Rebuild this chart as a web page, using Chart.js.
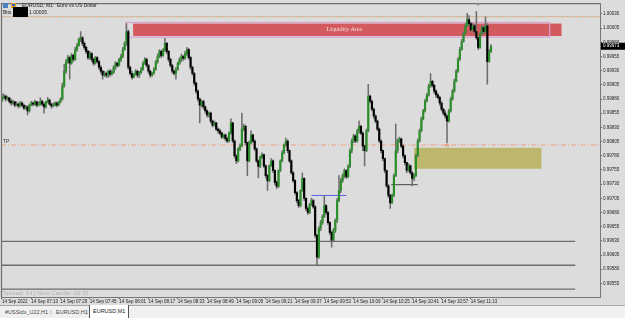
<!DOCTYPE html>
<html><head><meta charset="utf-8">
<script src="https://cdn.jsdelivr.net/npm/chart.js@4.4.1/dist/chart.umd.min.js"></script>
<style>
html,body{margin:0;padding:0;background:#dcdcdc;width:625px;height:318px;overflow:hidden;font-family:'Liberation Sans',Arial,sans-serif}
#wrap{position:absolute;left:0;top:0;width:625px;height:306px}
#tabs{position:absolute;left:0;top:305px;width:625px;height:13px;background:#f0f0f0;border-top:1px solid #a8a8a8;font-size:5.5px;color:#444}
#tabs span{position:absolute;top:3px;white-space:nowrap}
#tabs .act{top:-1px;height:10px;padding:3px 3px 0 3px;background:#fff;border:1px solid #555;border-top:none;color:#222}
</style></head>
<body>
<div id="wrap"><canvas id="c" width="625" height="306"></canvas></div>
<div id="tabs">
 <span style="left:5px">#USSidx_U22,H1</span>
 <span style="left:50px;color:#888">|</span>
 <span style="left:56px">EURUSD,H1</span>
 <span style="left:86px;color:#888">|</span>
 <span class="act" style="left:89px">EURUSD,M1</span>
</div>
<script>
// ---- data (EURUSD M1, 14 Sep 2022, first bar 06:57) ----
const opens = [0.99876,0.99883,0.99885,0.99880,0.99882,0.99876,0.99873,0.99875,0.99869,0.99871,
0.99868,0.99873,0.99869,0.99864,0.99866,0.99859,0.99869,0.99873,0.99871,0.99875,
0.99869,0.99871,0.99876,0.99871,0.99866,0.99875,0.99878,0.99871,0.99868,0.99869,
0.99873,0.99869,0.99875,0.99880,0.99903,0.99929,0.99946,0.99953,0.99943,0.99957,
0.99950,0.99967,0.99974,0.99985,0.99988,0.99978,0.99971,0.99964,0.99953,0.99960,
0.99950,0.99943,0.99953,0.99946,0.99936,0.99929,0.99922,0.99925,0.99922,0.99929,
0.99924,0.99927,0.99936,0.99943,0.99939,0.99950,0.99955,0.99967,0.99978,0.99999,
0.99936,0.99925,0.99918,0.99924,0.99929,0.99922,0.99927,0.99932,0.99943,0.99950,
0.99939,0.99929,0.99922,0.99925,0.99932,0.99946,0.99955,0.99964,0.99957,0.99967,
0.99978,0.99964,0.99950,0.99939,0.99929,0.99925,0.99932,0.99943,0.99950,0.99955,
0.99952,0.99960,0.99967,0.99953,0.99936,0.99925,0.99908,0.99894,0.99880,0.99869,
0.99876,0.99866,0.99859,0.99852,0.99855,0.99841,0.99834,0.99838,0.99827,0.99824,
0.99820,0.99813,0.99817,0.99810,0.99806,0.99820,0.99838,0.99806,0.99780,0.99771,
0.99792,0.99797,0.99827,0.99832,0.99803,0.99771,0.99803,0.99817,0.99806,0.99792,
0.99771,0.99761,0.99778,0.99782,0.99762,0.99745,0.99736,0.99762,0.99771,0.99754,
0.99733,0.99726,0.99754,0.99771,0.99785,0.99799,0.99806,0.99789,0.99771,0.99750,
0.99736,0.99715,0.99701,0.99692,0.99719,0.99740,0.99705,0.99687,0.99680,0.99694,
0.99701,0.99690,0.99640,0.99601,0.99652,0.99662,0.99673,0.99692,0.99680,0.99662,
0.99645,0.99631,0.99648,0.99666,0.99701,0.99719,0.99736,0.99745,0.99754,0.99743,
0.99761,0.99789,0.99806,0.99815,0.99806,0.99824,0.99832,0.99820,0.99797,0.99789,
0.99824,0.99885,0.99876,0.99862,0.99850,0.99841,0.99827,0.99806,0.99789,0.99775,
0.99754,0.99727,0.99710,0.99697,0.99710,0.99745,0.99789,0.99806,0.99810,0.99797,
0.99780,0.99768,0.99754,0.99762,0.99750,0.99740,0.99745,0.99780,0.99806,0.99824,
0.99845,0.99859,0.99876,0.99887,0.99903,0.99911,0.99904,0.99894,0.99887,0.99883,
0.99873,0.99862,0.99855,0.99850,0.99841,0.99859,0.99880,0.99894,0.99911,0.99929,
0.99950,0.99967,0.99981,0.99995,1.00009,1.00020,1.00013,1.00002,1.00009,0.99999,
0.99988,0.99971,0.99995,1.00006,0.99999,1.00009,0.99946,0.99964];
const highs = [0.99889,0.99889,0.99887,0.99885,0.99883,0.99880,0.99878,0.99876,0.99875,0.99873,
0.99876,0.99875,0.99871,0.99869,0.99868,0.99871,0.99876,0.99875,0.99878,0.99876,
0.99875,0.99882,0.99878,0.99873,0.99876,0.99883,0.99880,0.99873,0.99873,0.99875,
0.99875,0.99876,0.99882,0.99908,0.99941,0.99950,0.99957,0.99955,0.99960,0.99959,
0.99971,0.99978,0.99988,0.99999,0.99990,0.99981,0.99973,0.99966,0.99964,0.99962,
0.99952,0.99955,0.99955,0.99948,0.99939,0.99931,0.99929,0.99927,0.99931,0.99932,
0.99931,0.99939,0.99946,0.99945,0.99952,0.99959,0.99971,0.99981,1.00013,1.00002,
0.99938,0.99929,0.99925,0.99932,0.99931,0.99929,0.99936,0.99946,0.99953,0.99952,
0.99941,0.99931,0.99927,0.99936,0.99948,0.99959,0.99967,0.99966,0.99969,0.99987,
0.99980,0.99966,0.99952,0.99941,0.99932,0.99936,0.99945,0.99953,0.99959,0.99957,
0.99964,0.99971,0.99969,0.99955,0.99938,0.99927,0.99910,0.99896,0.99882,0.99878,
0.99878,0.99868,0.99861,0.99857,0.99857,0.99843,0.99841,0.99839,0.99829,0.99827,
0.99822,0.99818,0.99818,0.99813,0.99822,0.99845,0.99839,0.99808,0.99782,0.99794,
0.99801,0.99855,0.99836,0.99834,0.99804,0.99806,0.99824,0.99818,0.99808,0.99794,
0.99773,0.99780,0.99785,0.99783,0.99764,0.99747,0.99764,0.99775,0.99773,0.99755,
0.99736,0.99755,0.99773,0.99789,0.99801,0.99811,0.99808,0.99790,0.99773,0.99752,
0.99738,0.99717,0.99703,0.99720,0.99750,0.99741,0.99706,0.99690,0.99696,0.99705,
0.99703,0.99692,0.99641,0.99655,0.99666,0.99676,0.99710,0.99694,0.99682,0.99664,
0.99647,0.99652,0.99669,0.99705,0.99745,0.99740,0.99748,0.99757,0.99755,0.99764,
0.99792,0.99810,0.99818,0.99817,0.99827,0.99841,0.99834,0.99822,0.99799,0.99827,
0.99906,0.99887,0.99878,0.99864,0.99852,0.99843,0.99829,0.99808,0.99790,0.99776,
0.99755,0.99729,0.99712,0.99713,0.99748,0.99836,0.99810,0.99813,0.99811,0.99799,
0.99782,0.99769,0.99766,0.99764,0.99752,0.99748,0.99783,0.99810,0.99827,0.99848,
0.99862,0.99880,0.99890,0.99906,0.99925,0.99913,0.99906,0.99896,0.99890,0.99885,
0.99875,0.99864,0.99859,0.99852,0.99862,0.99883,0.99897,0.99915,0.99932,0.99953,
0.99971,0.99985,0.99999,1.00013,1.00031,1.00027,1.00015,1.00013,1.00011,1.00034,
0.99990,0.99997,1.00009,1.00008,1.00025,1.00013,0.99967,0.99976];
const lows = [0.99875,0.99880,0.99876,0.99878,0.99873,0.99869,0.99871,0.99866,0.99868,0.99864,
0.99866,0.99866,0.99861,0.99862,0.99852,0.99857,0.99868,0.99868,0.99869,0.99866,
0.99868,0.99869,0.99868,0.99855,0.99864,0.99873,0.99869,0.99864,0.99866,0.99868,
0.99866,0.99868,0.99873,0.99878,0.99901,0.99925,0.99943,0.99915,0.99941,0.99946,
0.99948,0.99964,0.99973,0.99981,0.99974,0.99967,0.99960,0.99950,0.99950,0.99946,
0.99939,0.99941,0.99943,0.99932,0.99925,0.99915,0.99920,0.99918,0.99918,0.99920,
0.99922,0.99925,0.99932,0.99936,0.99938,0.99946,0.99953,0.99966,0.99974,0.99932,
0.99922,0.99915,0.99917,0.99922,0.99918,0.99918,0.99925,0.99931,0.99941,0.99936,
0.99925,0.99918,0.99920,0.99924,0.99931,0.99943,0.99953,0.99953,0.99955,0.99964,
0.99960,0.99946,0.99936,0.99925,0.99922,0.99915,0.99931,0.99941,0.99946,0.99948,
0.99950,0.99957,0.99950,0.99932,0.99922,0.99904,0.99890,0.99876,0.99838,0.99866,
0.99862,0.99855,0.99848,0.99848,0.99838,0.99831,0.99832,0.99824,0.99820,0.99817,
0.99810,0.99811,0.99806,0.99803,0.99804,0.99818,0.99803,0.99776,0.99766,0.99769,
0.99789,0.99796,0.99824,0.99799,0.99745,0.99769,0.99801,0.99803,0.99789,0.99768,
0.99741,0.99759,0.99775,0.99759,0.99741,0.99719,0.99734,0.99761,0.99750,0.99729,
0.99722,0.99724,0.99752,0.99769,0.99783,0.99797,0.99785,0.99768,0.99747,0.99733,
0.99712,0.99697,0.99689,0.99690,0.99717,0.99701,0.99683,0.99676,0.99678,0.99692,
0.99687,0.99636,0.99587,0.99599,0.99648,0.99659,0.99671,0.99676,0.99659,0.99641,
0.99619,0.99629,0.99645,0.99662,0.99699,0.99715,0.99733,0.99741,0.99740,0.99741,
0.99759,0.99785,0.99803,0.99803,0.99804,0.99820,0.99817,0.99789,0.99762,0.99787,
0.99822,0.99873,0.99859,0.99846,0.99838,0.99824,0.99803,0.99785,0.99771,0.99750,
0.99724,0.99706,0.99687,0.99696,0.99708,0.99743,0.99785,0.99803,0.99794,0.99776,
0.99764,0.99750,0.99752,0.99747,0.99727,0.99736,0.99743,0.99778,0.99804,0.99822,
0.99843,0.99857,0.99875,0.99885,0.99901,0.99901,0.99890,0.99883,0.99880,0.99869,
0.99859,0.99852,0.99846,0.99803,0.99839,0.99857,0.99878,0.99892,0.99910,0.99927,
0.99948,0.99966,0.99980,0.99994,1.00008,1.00009,0.99999,1.00001,0.99995,0.99985,
0.99967,0.99969,0.99994,0.99995,0.99997,0.99906,0.99945,0.99962];
const closes = [0.99883,0.99885,0.99880,0.99882,0.99876,0.99873,0.99875,0.99869,0.99871,0.99868,
0.99873,0.99869,0.99864,0.99866,0.99859,0.99869,0.99873,0.99871,0.99875,0.99869,
0.99871,0.99876,0.99871,0.99866,0.99875,0.99878,0.99871,0.99868,0.99869,0.99873,
0.99869,0.99875,0.99880,0.99903,0.99929,0.99946,0.99953,0.99943,0.99957,0.99950,
0.99967,0.99974,0.99985,0.99988,0.99978,0.99971,0.99964,0.99953,0.99960,0.99950,
0.99943,0.99953,0.99946,0.99936,0.99929,0.99922,0.99925,0.99922,0.99929,0.99924,
0.99927,0.99936,0.99943,0.99939,0.99950,0.99955,0.99967,0.99978,0.99999,0.99936,
0.99925,0.99918,0.99924,0.99929,0.99922,0.99927,0.99932,0.99943,0.99950,0.99939,
0.99929,0.99922,0.99925,0.99932,0.99946,0.99955,0.99964,0.99957,0.99967,0.99978,
0.99964,0.99950,0.99939,0.99929,0.99925,0.99932,0.99943,0.99950,0.99955,0.99952,
0.99960,0.99967,0.99953,0.99936,0.99925,0.99908,0.99894,0.99880,0.99869,0.99876,
0.99866,0.99859,0.99852,0.99855,0.99841,0.99834,0.99838,0.99827,0.99824,0.99820,
0.99813,0.99817,0.99810,0.99806,0.99820,0.99838,0.99806,0.99780,0.99771,0.99792,
0.99797,0.99827,0.99832,0.99803,0.99771,0.99803,0.99817,0.99806,0.99792,0.99771,
0.99761,0.99778,0.99782,0.99762,0.99745,0.99736,0.99762,0.99771,0.99754,0.99733,
0.99726,0.99754,0.99771,0.99785,0.99799,0.99806,0.99789,0.99771,0.99750,0.99736,
0.99715,0.99701,0.99692,0.99719,0.99740,0.99705,0.99687,0.99680,0.99694,0.99701,
0.99690,0.99640,0.99601,0.99652,0.99662,0.99673,0.99692,0.99680,0.99662,0.99645,
0.99631,0.99648,0.99666,0.99701,0.99719,0.99736,0.99745,0.99754,0.99743,0.99761,
0.99789,0.99806,0.99815,0.99806,0.99824,0.99832,0.99820,0.99797,0.99789,0.99824,
0.99885,0.99876,0.99862,0.99850,0.99841,0.99827,0.99806,0.99789,0.99775,0.99754,
0.99727,0.99710,0.99697,0.99710,0.99745,0.99789,0.99806,0.99810,0.99797,0.99780,
0.99768,0.99754,0.99762,0.99750,0.99740,0.99745,0.99780,0.99806,0.99824,0.99845,
0.99859,0.99876,0.99887,0.99903,0.99911,0.99904,0.99894,0.99887,0.99883,0.99873,
0.99862,0.99855,0.99850,0.99841,0.99859,0.99880,0.99894,0.99911,0.99929,0.99950,
0.99967,0.99981,0.99995,1.00009,1.00020,1.00013,1.00002,1.00009,0.99999,0.99988,
0.99971,0.99995,1.00006,0.99999,1.00009,0.99946,0.99964,0.99973];

const xTickTimes  = ['06:57','07:13','07:29','07:45','08:01','08:17','08:33','08:49','09:05','09:21','09:37','09:53','10:09','10:25','10:41','10:57','11:13'];
const xTickLabels = ['14 Sep 2022','14 Sep 07:13','14 Sep 07:29','14 Sep 07:45','14 Sep 08:01','14 Sep 08:17','14 Sep 08:33','14 Sep 08:49','14 Sep 09:05','14 Sep 09:21','14 Sep 09:37','14 Sep 09:53','14 Sep 10:09','14 Sep 10:25','14 Sep 10:41','14 Sep 10:57','14 Sep 11:13'];
const yTicks = [1.00030,1.00005,0.99980,0.99955,0.99930,0.99905,0.99880,0.99855,0.99830,0.99805,0.99780,0.99755,0.99730,0.99705,0.99680,0.99655,0.99630,0.99605,0.99580,0.99555];

// chart objects (time as minutes index from 06:57, price)
const liquidityZone = {label:'Liquidity Area', from:71.6, to:305.5, top:1.00013, bottom:0.99991};
const liquidityOutline = {from:67.8, to:299, top:1.00015, bottom:0.99989};
const demandZone = {from:225, to:294.5, top:0.99794, bottom:0.99757};
const hLevels = [0.99629, 0.99587, 0.99545];
const hLevelsEnd = 313;
const topLevel = 1.00025;
const tpLevel = 0.99799;
const blueSeg = {from:169, to:188, price:0.99710};
const blackSeg = {from:212.5, to:227, price:0.99729};
const tpHit = {at:243, price:0.99799};

// category slots: visible bars + empty future space (1-minute steps)
const categories = [];
for (let i = 0; i < 327; i++) {
  const t = 6*60+57+i, h = Math.floor(t/60), m = t%60;
  categories.push(String(h).padStart(2,'0')+':'+String(m).padStart(2,'0'));
}
const tickIdx = xTickTimes.map(t => categories.indexOf(t));

const bodies = opens.map((o,i)=>[o, closes[i]]);
const wicks = lows.map((l,i)=>[l, highs[i]]);
const GREEN = '#2a8f2a';

function box(x, y, r){
  const x0=x.getPixelForValue(r.from), x1=x.getPixelForValue(r.to), y0=y.getPixelForValue(r.top), y1=y.getPixelForValue(r.bottom);
  return [x0,y0,x1-x0,y1-y0];
}

const overlay = {
  id:'overlay',
  beforeDatasetsDraw(chart){
    const {ctx, chartArea:a, scales:{x,y}} = chart;
    ctx.save();
    ctx.beginPath(); ctx.rect(a.left,a.top,a.right-a.left,a.bottom-a.top); ctx.clip();
    // liquidity zone + outline
    ctx.fillStyle = '#d35a5e';
    ctx.fillRect(...box(x,y,liquidityZone));
    ctx.strokeStyle = '#d8a2d2'; ctx.lineWidth = 1.2;
    ctx.strokeRect(...box(x,y,liquidityOutline));
    ctx.fillStyle = '#bdb76e';
    ctx.fillRect(...box(x,y,demandZone));
    // horizontal levels
    ctx.strokeStyle = '#6c6c6c'; ctx.lineWidth = 1.3;
    hLevels.forEach(p=>{ const yy=y.getPixelForValue(p); ctx.beginPath(); ctx.moveTo(a.left,yy); ctx.lineTo(x.getPixelForValue(hLevelsEnd),yy); ctx.stroke(); });
    // top level dashed
    let yy = y.getPixelForValue(topLevel);
    ctx.lineWidth = 1; ctx.setLineDash([3,2]); ctx.strokeStyle = '#e9a27a';
    ctx.beginPath(); ctx.moveTo(a.left,yy); ctx.lineTo(a.right,yy); ctx.stroke();
    ctx.setLineDash([1,4]); ctx.lineDashOffset = -3.5; ctx.strokeStyle = '#8fae78';
    ctx.beginPath(); ctx.moveTo(a.left,yy); ctx.lineTo(a.right,yy); ctx.stroke();
    ctx.lineDashOffset = 0;
    // TP dash-dot
    yy = y.getPixelForValue(tpLevel);
    ctx.setLineDash([5,2,1,2]); ctx.strokeStyle = '#eea283';
    ctx.beginPath(); ctx.moveTo(a.left,yy); ctx.lineTo(a.right,yy); ctx.stroke();
    ctx.setLineDash([]);
    // segments
    ctx.strokeStyle = '#5a5cf0'; ctx.lineWidth = 1;
    yy = y.getPixelForValue(blueSeg.price);
    ctx.beginPath(); ctx.moveTo(x.getPixelForValue(blueSeg.from),yy); ctx.lineTo(x.getPixelForValue(blueSeg.to),yy); ctx.stroke();
    ctx.strokeStyle = '#444';
    yy = y.getPixelForValue(blackSeg.price);
    ctx.beginPath(); ctx.moveTo(x.getPixelForValue(blackSeg.from),yy); ctx.lineTo(x.getPixelForValue(blackSeg.to),yy); ctx.stroke();
    ctx.restore();
  },
  afterDatasetsDraw(chart){
    const {ctx, chartArea:a, scales:{x,y}} = chart;
    ctx.save();
    // Liquidity text
    const z = liquidityZone;
    ctx.font = '6px "Liberation Serif", serif'; ctx.fillStyle = '#f6dede';
    ctx.textAlign = 'center'; ctx.textBaseline = 'middle';
    ctx.fillText(z.label, (x.getPixelForValue(z.from)+x.getPixelForValue(z.to))/2 - 3, (y.getPixelForValue(z.top)+y.getPixelForValue(z.bottom))/2);
    // TP label
    ctx.font = '5px "Liberation Sans"'; ctx.fillStyle = '#333'; ctx.textAlign = 'left'; ctx.textBaseline = 'alphabetic';
    ctx.fillText('TP', a.left+2, y.getPixelForValue(tpLevel)-2);
    // TP hit marker
    const hx = x.getPixelForValue(tpHit.at), hy = y.getPixelForValue(tpHit.price);
    ctx.strokeStyle = '#e8845a'; ctx.lineWidth = 0.8;
    ctx.beginPath(); ctx.moveTo(hx-1.5,hy+1); ctx.lineTo(hx,hy-1.5); ctx.lineTo(hx+1.5,hy+1); ctx.closePath(); ctx.stroke();
    // frame left/top
    ctx.strokeStyle = '#6f6f6f'; ctx.lineWidth = 1.2;
    ctx.beginPath(); ctx.moveTo(a.left+0.5,a.bottom); ctx.lineTo(a.left+0.5,a.top); ctx.lineTo(a.right,a.top); ctx.stroke();
    // shift marker
    ctx.fillStyle = '#9a9a9a';
    const sx = x.getPixelForValue(260);
    ctx.beginPath(); ctx.moveTo(sx-2,a.top); ctx.lineTo(sx+2,a.top); ctx.lineTo(sx,a.top+2.5); ctx.closePath(); ctx.fill();
    // header
    ctx.fillStyle = '#4a7fc0'; ctx.fillRect(3,3,5,5);
    ctx.fillStyle = '#e0a030'; ctx.fillRect(11,3,5,5);
    ctx.fillStyle = '#3060b0'; ctx.fillRect(12,4,3,2);
    ctx.font = '5px "Liberation Sans"'; ctx.fillStyle = '#222'; ctx.textBaseline = 'middle';
    ctx.fillText('EURUSD, M1:  Euro vs US Dollar', 22, 5.5);
    ctx.fillText('Bits', 3, 12.5);
    ctx.fillStyle = '#000'; ctx.fillRect(13,7,15,10);
    ctx.fillStyle = '#222'; ctx.fillText('1.00005', 29, 12.5);
    // spread text
    ctx.font = '6px "Liberation Sans"'; ctx.fillStyle = '#adb2b8';
    ctx.fillText('Spread: 14 | Next Candle: 00:35', 3, a.bottom - 4);
    // current price label
    const last = closes[closes.length-1];
    const ly = y.getPixelForValue(last);
    ctx.fillStyle = '#000'; ctx.fillRect(a.right+1, ly-3.5, 24, 7);
    ctx.fillStyle = '#fff'; ctx.font = '4.5px "Liberation Sans"';
    ctx.fillText(last.toFixed(5), a.right+3, ly);
    ctx.restore();
  }
};

new Chart(document.getElementById('c'), {
  type:'bar',
  data:{
    labels: categories,
    datasets:[
      {label:'body', data:bodies, grouped:false, order:0, barThickness:1.5,
       backgroundColor: ctx => (closes[ctx.dataIndex] >= opens[ctx.dataIndex] ? GREEN : '#000')},
      {label:'wick', data:wicks, grouped:false, order:1, barThickness:0.9, backgroundColor:'#6e6e6e'}
    ]
  },
  options:{
    responsive:false, animation:false, devicePixelRatio:1,
    layout:{padding:{left:1, top:2, right:0, bottom:0}},
    plugins:{legend:{display:false}, tooltip:{enabled:false}},
    scales:{
      x:{
        type:'category', offset:true,
        grid:{display:true, drawOnChartArea:false, drawTicks:true, tickLength:2, color:'#666', offset:false},
        border:{display:true, color:'#777', width:1},
        ticks:{autoSkip:false, maxRotation:0, minRotation:0, align:'start', padding:0,
               font:{size:4.5, family:'Liberation Sans'}, color:'#222',
               callback:(v,i)=>xTickLabels[i]},
        afterBuildTicks:s=>{ s.ticks = tickIdx.map(v=>({value:v})); },
        afterFit:s=>{ s.height = 9; }
      },
      y:{
        position:'right', min:0.99531, max:1.00048,
        grid:{display:true, drawOnChartArea:false, drawTicks:true, tickLength:2, color:'#666'},
        border:{display:true, color:'#777', width:1},
        ticks:{padding:1, font:{size:4.5, family:'Liberation Sans'}, color:'#222', callback:v=>v.toFixed(5)},
        afterBuildTicks:s=>{ s.ticks = yTicks.map(v=>({value:v})); },
        afterFit:s=>{ s.width = 25; }
      }
    }
  },
  plugins:[overlay]
});
</script>
</body></html>
